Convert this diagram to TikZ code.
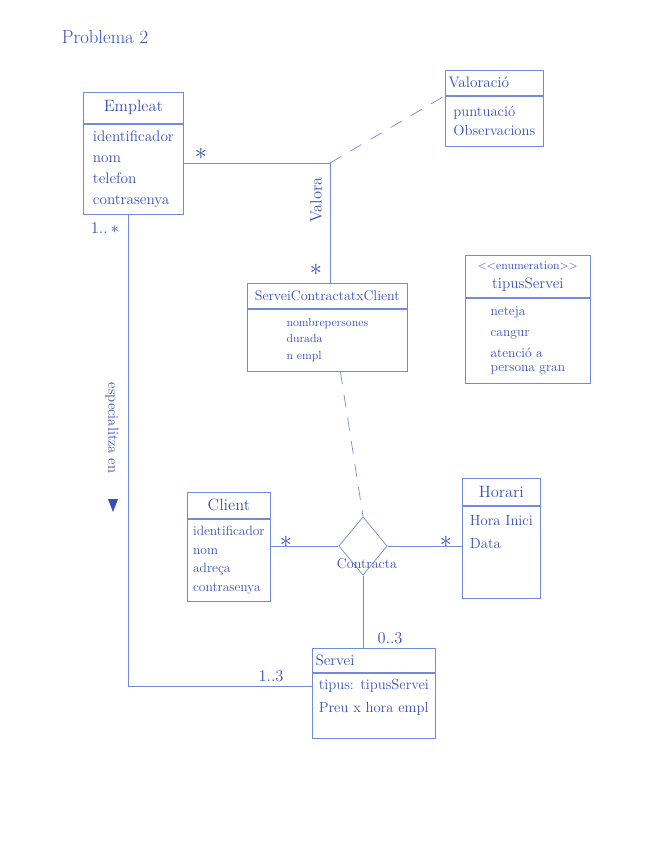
\documentclass[tikz,border=0pt]{standalone}
\usepackage{fontspec}
\usepackage{xcolor}
\usetikzlibrary{shapes.geometric}
\usetikzlibrary{positioning}

\definecolor{ink}{RGB}{55,80,185}
\definecolor{pencil}{RGB}{115,138,215}

\begin{document}
\begin{tikzpicture} [
    x=0.03cm, y=-0.03cm,
    classname/.style = { rectangle, draw=pencil, semithick, text=ink,
                         font=\fontsize{14}{16}\selectfont,
                         anchor=north west, inner sep=2pt },
    classattr/.style = { rectangle, draw=pencil, semithick, text=ink,
                         align=left, font=\fontsize{13}{18}\selectfont,
                         inner sep=2pt },
    multip/.style    = { text=ink, font=\fontsize{14}{16}\selectfont,
                         inner sep=1pt },
    manystar/.style  = { text=ink, font=\huge, inner sep=0pt },
    rolename/.style  = { text=ink, inner sep=1pt },
    assoc/.style     = { diamond, draw=pencil, semithick,
                         minimum width=1.45cm, minimum height=1.75cm,
                         inner sep=0pt },
    link/.style      = { draw=pencil, semithick },
    longdash/.style  = { dash pattern=on 11pt off 9pt },
  ]
  \useasboundingbox (0,0) rectangle (655,848);

  \node [text=ink, font=\fontsize{16}{19}\selectfont] (title) at (105,37) {Problema 2};

  % classes
  \node [classname, minimum width=3cm, minimum height=0.93cm] (empleat) at (83,92) {Empleat};
  \node [classattr, minimum width=3cm, minimum height=2.7cm, below=0pt of empleat]
        (empleat-attr) {identificador\\nom\\telefon\\contrasenya};

  \node [classname, minimum width=2.94cm, minimum height=0.75cm, font=\fontsize{13}{15}\selectfont,
         align=left, text width=2.75cm] (valoracio) at (445,70) {Valoració};
  \node [classattr, minimum width=2.94cm, minimum height=1.5cm, below=0pt of valoracio,
         font=\fontsize{12.5}{17}\selectfont] (valoracio-attr) {puntuació\\Observacions};

  \node [classname, minimum width=4.8cm, minimum height=0.75cm,
         font=\fontsize{12}{14}\selectfont] (sctc) at (247,283) {ServeiContractatxClient};
  \node [classattr, minimum width=4.8cm, minimum height=1.86cm, below=0pt of sctc,
         font=\fontsize{10}{14}\selectfont] (sctc-attr) {nombrepersones\\durada\\n empl};

  \node [classname, minimum width=3.75cm, minimum height=1.26cm, align=center,
         font=\fontsize{13}{15}\selectfont]
        (tipus) at (465,255)
        {{\fontsize{10}{12}\selectfont {<}{<}enumeration{>}{>}}\\[1pt] tipusServei};
  \node [classattr, minimum width=3.75cm, minimum height=2.55cm, below=0pt of tipus,
         font=\fontsize{11.5}{18}\selectfont]
        (tipus-attr) {neteja\\cangur\\atenció a\\[-6pt] persona gran};

  \node [classname, minimum width=2.49cm, minimum height=0.78cm] (client) at (187,492) {Client};
  \node [classattr, minimum width=2.49cm, minimum height=2.46cm, below=0pt of client,
         font=\fontsize{11.5}{16}\selectfont]
        (client-attr) {identificador\\nom\\adreça\\contrasenya};

  \node [classname, minimum width=2.34cm, minimum height=0.81cm] (horari) at (462,478) {Horari};
  \node [classattr, minimum width=2.34cm, minimum height=2.76cm, below=0pt of horari,
         font=\fontsize{12.5}{20}\selectfont, text depth=1.2cm]
        (horari-attr) {Hora Inici\\Data};

  \node [classname, minimum width=3.69cm, minimum height=0.72cm, font=\fontsize{13}{15}\selectfont,
         align=left, text width=3.5cm] (servei) at (312,648) {Servei};
  \node [classattr, minimum width=3.69cm, minimum height=1.95cm, below=0pt of servei,
         font=\fontsize{12.5}{20}\selectfont, text depth=0.6cm]
        (servei-attr) {tipus: tipusServei\\Preu x hora empl};

  % association class Contracta
  \node [assoc] (contracta) at (363,546) {};
  \node [rolename, font=\fontsize{12}{14}\selectfont] (contracta-name) at (367,564) {Contracta};

  \coordinate (valora) at (330,163);
  \coordinate (especialitza) at (128,686);

  % connect the classes
  \begin{scope} [every path/.style=link]
    \path (valora -| empleat-attr.east) -- (valora) -- (valora |- sctc.north);
    \path [longdash] (valora) -- (valoracio.south west);
    \path [longdash] ([xshift=0.39cm]sctc-attr.south) -- (contracta.north);
    \path (contracta.west -| client-attr.east) -- (contracta.west);
    \path (contracta.east) -- (contracta.east -| horari-attr.west);
    \path (contracta.south) -- (contracta.south |- servei.north);
    \path (especialitza |- empleat-attr.south) -- (especialitza)
          -- (especialitza -| servei-attr.west);
  \end{scope}

  % multiplicities and role names
  \node [manystar] (m-empleat) at (201,154) {$\ast$};
  \node [multip]   (m-especialista) at (105,228) {1..\,$\ast$};
  \node [manystar] (m-sctc) at (316,270) {$\ast$};
  \node [manystar] (m-client) at (286,542) {$\ast$};
  \node [manystar] (m-horari) at (446,542) {$\ast$};
  \node [multip]   (m-servei) at (390,638) {0..3};
  \node [multip]   (m-servei-emp) at (271,676) {1..3};

  \node [rolename, rotate=90, font=\fontsize{14}{16}\selectfont] (valora-name) at (316,200) {Valora};
  \node [rolename, rotate=-90, font=\fontsize{12.5}{14}\selectfont] (especialitza-name) at (112,428) {especialitza en};
  \coordinate (especialitza-dir) at (113,505);
  \fill [ink] (especialitza-dir) ++(-5,-6) -- ++(10,0) -- ++(-5,13) -- cycle;
\end{tikzpicture}
\end{document}
